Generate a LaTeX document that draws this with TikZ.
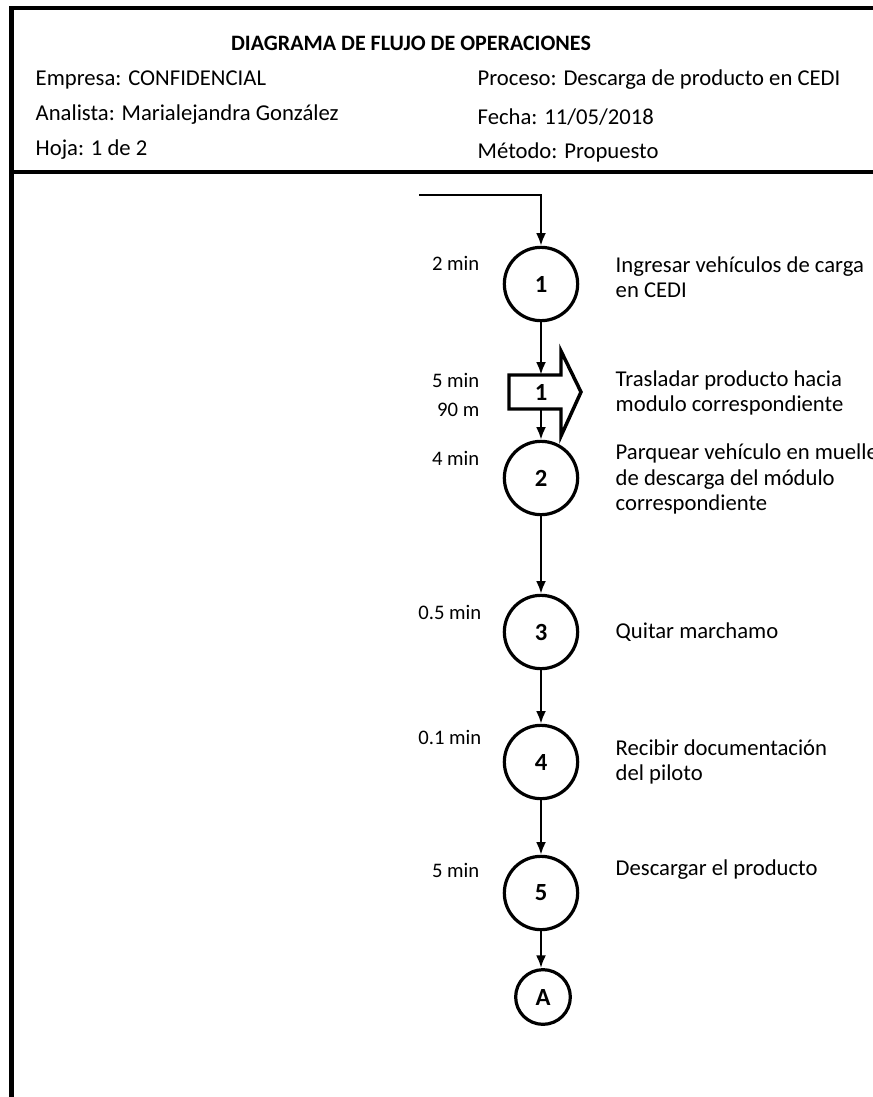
\documentclass[tikz,border=0pt]{standalone}
\usepackage{fontspec}
\setmainfont{Carlito}
\usetikzlibrary{calc,arrows.meta}

\begin{document}
\begin{tikzpicture}[x=0.75pt,y=-0.75pt,>={Latex[length=9.5pt,width=7.5pt]},
  frame/.style={line width=3.4pt},
  opcirc/.style={draw,circle,line width=2.4pt,minimum size=55pt,inner sep=0pt,
    font=\fontsize{18.5}{20}\selectfont\bfseries},
  refcirc/.style={opcirc,minimum size=41pt},
  desc/.style={anchor=west,align=left,font=\fontsize{17}{19}\selectfont},
  tlabel/.style={anchor=east,font=\fontsize{15.5}{17}\selectfont},
  head/.style={anchor=west,font=\fontsize{17}{19}\selectfont},
  flow/.style={->,line width=1.8pt}]
\useasboundingbox (0,0) rectangle (873,1097);
% page frame and header
\draw[frame,line join=miter] (873,8) -- (11.5,8) -- (11.5,1097);
\draw[frame] (11.5,172) -- (873,172);
\node[font=\fontsize{16.5}{18}\selectfont\bfseries] (title) at (411,43) {DIAGRAMA DE FLUJO DE OPERACIONES};
\node[head] (empresa) at (31,80) {Empresa: CONFIDENCIAL};
\node[head] (analista) at (31,115) {Analista: Marialejandra González};
\node[head] (hoja) at (31,150) {Hoja: 1 de 2};
\node[head] (proceso) at (473,80) {Proceso: Descarga de producto en CEDI};
\node[head] (fecha) at (473,117) {Fecha: 11/05/2018};
\node[head] (metodo) at (473,152) {Método: Propuesto};

% operations
\coordinate (entry) at (419,195);
\node[opcirc] (op1) at (541,284) {1};
\node[inner sep=0pt,minimum height=25.5pt,minimum width=30pt,
  font=\fontsize{18.5}{20}\selectfont\bfseries] (tr1) at (541,392) {1};
\node[opcirc] (op2) at (541,478) {2};
\node[opcirc] (op3) at (541,632) {3};
\node[opcirc] (op4) at (541,762) {4};
\node[opcirc] (op5) at (541,893) {5};
\node[refcirc] (conA) at (543,997) {A};

% transport symbol
\draw[line width=2.6pt,line join=miter]
  ($(tr1)+(20,17)$) -- ($(tr1)+(-32,17)$) -- ($(tr1)+(-32,-17)$) -- ($(tr1)+(20,-17)$)
  -- ($(tr1)+(20,-41)$) -- ($(tr1)+(40,0)$) -- ($(tr1)+(20,44)$) -- cycle;

% times and distances
\node[tlabel] (t1) at (484,263) {2 min};
\node[tlabel] (t2) at (484,380) {5 min};
\node[tlabel] (d2) at (484,410) {90 m};
\node[tlabel] (t3) at (484,458) {4 min};
\node[tlabel] (t4) at (486,612) {0.5 min};
\node[tlabel] (t5) at (486,737) {0.1 min};
\node[tlabel] (t6) at (484,870) {5 min};

% activity descriptions
\node[desc] (s1) at (611,277) {Ingresar vehículos de carga\\en CEDI};
\node[desc] (s2) at (611,393) {Trasladar producto hacia\\modulo correspondiente};
\node[desc] (s3) at (611,479) {Parquear vehículo en muelle\\de descarga del módulo\\correspondiente};
\node[desc] (s4) at (611,632) {Quitar marchamo};
\node[desc] (s5) at (611,762) {Recibir documentación\\del piloto};
\node[desc] (s6) at (611,870) {Descargar el producto};

% flow
\draw[flow] (entry) -| (op1);
\draw[flow] (op1) -- (tr1);
\draw[flow] (tr1) -- (op2);
\draw[flow] (op2) -- (op3);
\draw[flow] (op3) -- (op4);
\draw[flow] (op4) -- (op5);
\draw[flow] (op5) -- (op5 |- conA.north);
\end{tikzpicture}
\end{document}
